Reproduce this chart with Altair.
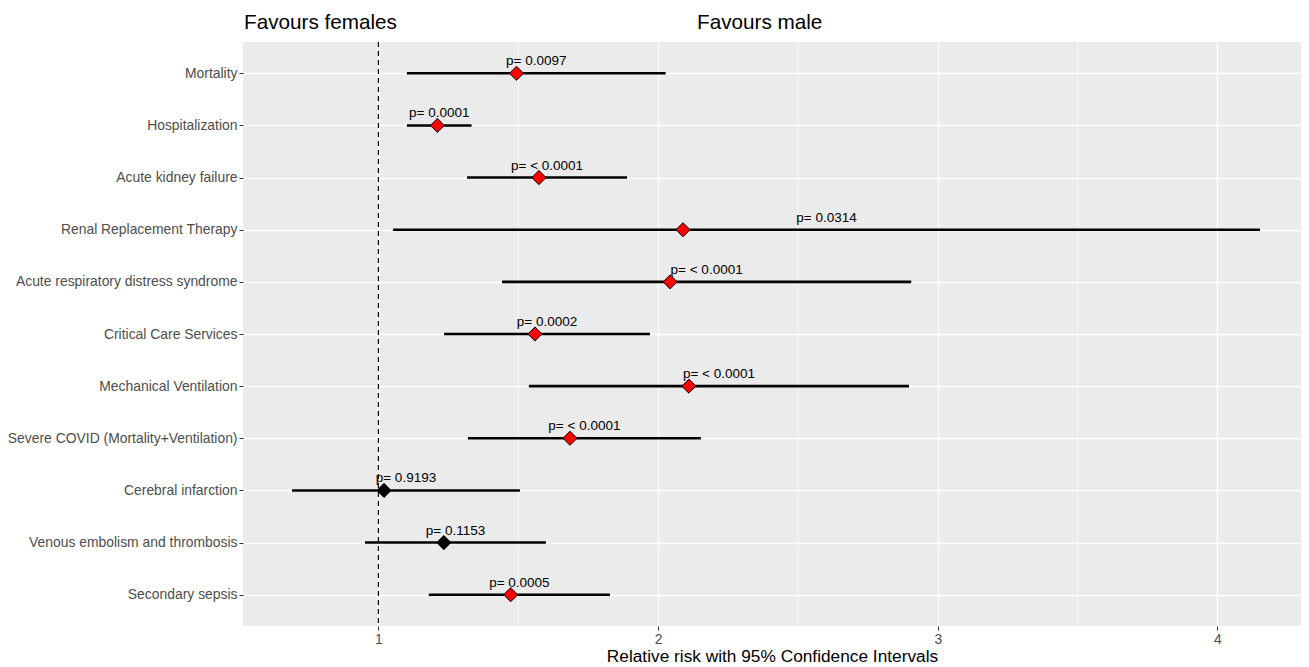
import altair as alt
import pandas as pd

FONT = "Liberation Sans"

outcomes = [
    "Mortality",
    "Hospitalization",
    "Acute kidney failure",
    "Renal Replacement Therapy",
    "Acute respiratory distress syndrome",
    "Critical Care Services",
    "Mechanical Ventilation",
    "Severe COVID (Mortality+Ventilation)",
    "Cerebral infarction",
    "Venous embolism and thrombosis",
    "Secondary sepsis",
]
rr = [1.494, 1.211, 1.574, 2.089, 2.043, 1.560, 2.110, 1.685, 1.020, 1.234, 1.473]
lower = [1.102, 1.102, 1.317, 1.052, 1.442, 1.235, 1.538, 1.320, 0.691, 0.952, 1.180]
upper = [2.027, 1.333, 1.889, 4.152, 2.905, 1.971, 2.897, 2.153, 1.506, 1.599, 1.828]
p_labels = [
    "p= 0.0097", "p= 0.0001", "p= < 0.0001", "p= 0.0314", "p= < 0.0001",
    "p= 0.0002", "p= < 0.0001", "p= < 0.0001", "p= 0.9193", "p= 0.1153",
    "p= 0.0005",
]
significant = ["yes", "yes", "yes", "yes", "yes", "yes", "yes", "yes", "no", "no", "yes"]

x_ticks = [1, 2, 3, 4]
minor_ticks = [1.5, 2.5, 3.5]
reference = [1]

df = pd.DataFrame({
    "outcome": outcomes, "rr": rr, "lo": lower, "hi": upper,
    "p": p_labels, "sig": significant,
})

xsc = alt.Scale(domain=[0.5159, 4.2986], nice=False, zero=False)
ysc = alt.Scale(type="point", padding=0.6, domain=outcomes)

x_axis = alt.Axis(
    values=x_ticks, title="Relative risk with 95% Confidence Intervals",
    grid=True, gridColor="white", gridWidth=1.4, domain=False,
    labelColor="#4D4D4D", labelFont=FONT, labelFontSize=13.9,
    tickColor="#333333", tickSize=4, tickWidth=1, labelPadding=2,
    titleFont=FONT, titleFontSize=17.3, titleColor="black",
    titleFontWeight="normal", titlePadding=2, labelFlush=False,
)
y_axis = alt.Axis(
    title=None, grid=True, gridColor="white", gridWidth=1.4, domain=False,
    labelColor="#4D4D4D", labelFont=FONT, labelFontSize=13.9, labelLimit=0,
    tickColor="#333333", tickSize=4, tickWidth=1, labelPadding=2,
)

def X(field):
    return alt.X(field, type="quantitative", scale=xsc, axis=x_axis)

Y = alt.Y("outcome:N", scale=ysc, sort=outcomes, axis=y_axis)

minor = alt.Chart(pd.DataFrame({"m": minor_ticks})).mark_rule(
    color="white", strokeWidth=0.7
).encode(x=X("m"))

ref = alt.Chart(pd.DataFrame({"r": reference})).mark_rule(
    color="black", strokeWidth=1.2, strokeDash=[5, 4]
).encode(x=X("r"))

bars = alt.Chart(df).mark_rule(color="black", strokeWidth=2.6).encode(
    x=X("lo"), x2="hi", y=Y
)

pts = alt.Chart(df).mark_point(
    shape="diamond", filled=True, size=200, stroke="black", strokeWidth=1,
    opacity=1, fillOpacity=1,
).encode(
    x=X("rr"), y=Y,
    fill=alt.Fill("sig:N", scale=alt.Scale(domain=["yes", "no"], range=["#FF0000", "#000000"]), legend=None),
)

labels = alt.Chart(df).transform_calculate(
    mid="(datum.lo + datum.hi) / 2"
).mark_text(
    font=FONT, fontSize=13.5, color="black", dy=-8, baseline="alphabetic", align="center"
).encode(x=X("mid"), y=Y, text="p:N")

ann_left = alt.Chart(pd.DataFrame({"t": ["Favours females"]})).mark_text(
    font=FONT, fontSize=20.7, color="black", align="left", baseline="alphabetic"
).encode(x=alt.value(1), y=alt.value(-12.6), text="t:N")

ann_right = alt.Chart(pd.DataFrame({"t": ["Favours male"]})).mark_text(
    font=FONT, fontSize=20.7, color="black", align="left", baseline="alphabetic"
).encode(x=alt.value(454), y=alt.value(-12.6), text="t:N")

chart = alt.layer(minor, ref, bars, pts, labels, ann_left, ann_right).properties(
    width=1058, height=584,
    autosize=alt.AutoSizeParams(type="none"),
    padding={"left": 235, "top": 34, "right": 0, "bottom": 42},
    background="white",
).configure_view(fill="#EBEBEB", stroke=None)

chart.save("out.html", embed_options={"renderer": "svg", "actions": False})
